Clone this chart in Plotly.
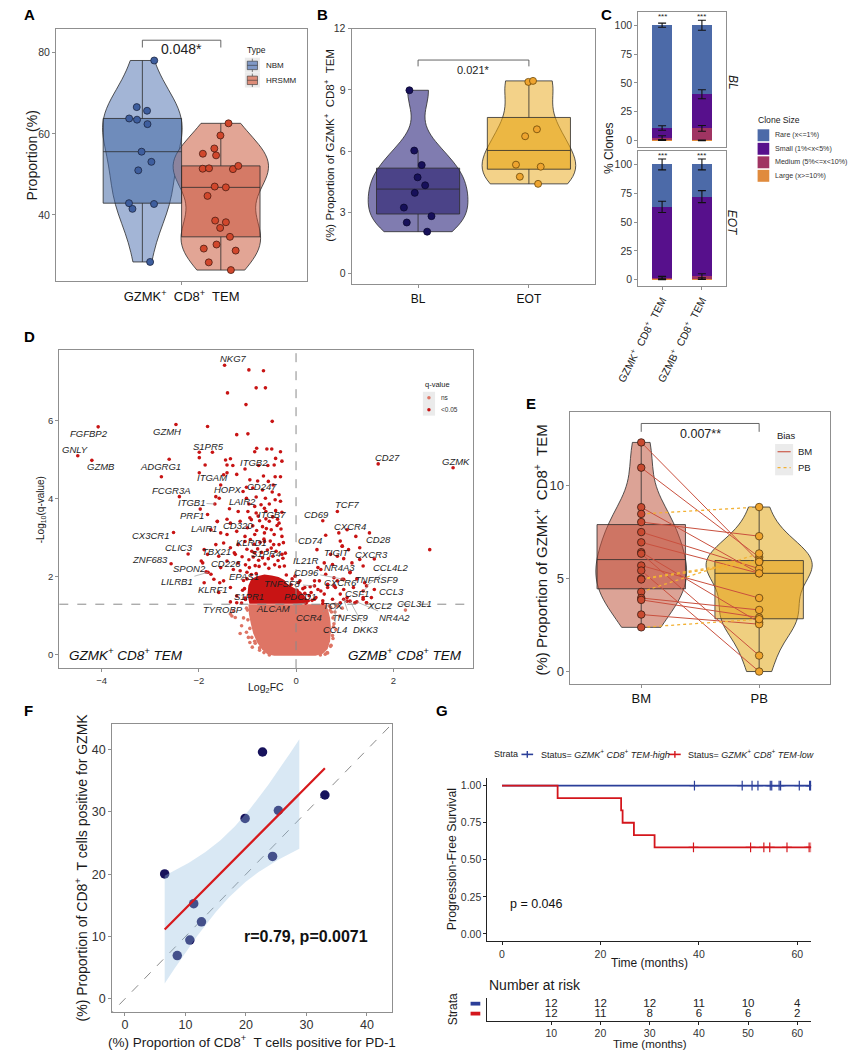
import numpy as np
import plotly.graph_objects as go

W, H = 851, 1050
FONT = "Liberation Sans, Arial, Helvetica, sans-serif"

# ======================= DATA =======================
# ---- Panel A
a_cell_label = "GZMK<sup>+</sup>  CD8<sup>+</sup>  TEM"
a_types = ["NBM", "HRSMM"]
a_nbm = [78.1, 66.6, 65.7, 63.8, 63.5, 62.4, 55.6, 53.1, 51.0, 42.9, 42.7, 41.5, 28.4]
a_hrsmm = [62.6, 59.6, 56.4, 55.1, 54.7, 52.1, 51.5, 51.4, 51.3, 47.0, 46.8, 44.7,
           38.6, 38.2, 36.8, 34.6, 32.7, 31.7, 31.2, 28.3, 26.4]
a_pval = "0.048*"

# ---- Panel B
b_groups = ["BL", "EOT"]
b_bl = [8.98, 6.03, 5.32, 4.72, 4.33, 3.96, 3.24, 2.82, 2.51, 2.06]
b_eot = [9.44, 9.39, 7.07, 6.73, 5.34, 5.24, 4.75, 4.40]
b_pval = "0.021*"

# ---- Panel C
c_cells = ["GZMK<sup>+</sup>  CD8<sup>+</sup>  TEM", "GZMB<sup>+</sup>  CD8<sup>+</sup>  TEM"]
c_timepoints = ["BL", "EOT"]
c_sizes = ["Rare (x&lt;=1%)", "Small (1%&lt;x&lt;5%)", "Medium (5%&lt;=x&lt;10%)", "Large (x&gt;=10%)"]
c_bl_rare = [89.1, 59.8]
c_bl_small = [8.6, 29.6]
c_bl_medium = [1.8, 10.4]
c_bl_large = [0.5, 0.2]
c_eot_rare = [36.8, 27.9]
c_eot_small = [61.5, 69.2]
c_eot_medium = [1.0, 1.9]
c_eot_large = [0.7, 1.0]
c_bl_err_rare = [1.8, 4.3]
c_bl_err_small = [2.0, 3.9]
c_bl_err_medium = [1.9, 2.5]
c_bl_err_large = [0.4, 0.3]
c_eot_err_rare = [4.7, 4.7]
c_eot_err_small = [4.9, 5.2]
c_eot_err_medium = [1.2, 2.3]
c_eot_err_large = [0.6, 0.8]
c_sig = ["***", "***"]

# ---- Panel D (volcano): labelled genes
d_genes = ["NKG7", "FGFBP2", "GNLY", "GZMB", "GZMH", "S1PR5", "ADGRG1", "ITGB2", "ITGAM", "FCGR3A",
           "HOPX", "CD247", "ITGB1", "LAIR2", "PRF1", "ITGB7", "CD320", "LAIR1", "CX3CR1", "KLRD1",
           "CLIC3", "TBX21", "S1PR4", "ZNF683", "CD226", "SPON2", "EPAS1", "LILRB1", "TNFSF8", "KLRF1",
           "S1PR1", "PDCD1", "TYROBP", "ALCAM", "CD69", "TCF7", "CXCR4", "CD74", "CD28", "TIGIT",
           "CXCR3", "IL21R", "NR4A3", "CCL4L2", "CD96", "TNFRSF9", "CXCR6", "CCL3", "CSF1", "CCL3L1",
           "XCL2", "TOX", "NR4A2", "CCR4", "TNFSF9", "CCL4", "DKK3", "CD27", "GZMK"]
d_gene_lfc = [-1.47, -4.07, -4.49, -4.20, -2.47, -1.99, -2.61, -1.05, -1.99, -2.40,
              -1.65, -1.02, -1.67, -0.85, -1.97, -0.65, -1.42, -1.62, -2.52, -0.65,
              -2.22, -1.27, -0.85, -2.57, -1.19, -1.92, -0.82, -1.81, 0.38, -1.89,
              -0.85, 0.41, -1.35, 0.20, 0.55, 0.85, 0.88, 0.61, 1.51, 0.95,
              1.61, 0.58, 1.11, 1.45, 0.98, 1.38, 0.78, 1.61, 1.38, 2.25,
              1.45, 1.05, 1.25, 0.58, 0.98, 0.81, 1.11, 1.69, 3.23]
d_gene_q = [7.43, 5.85, 5.11, 4.99, 5.91, 5.20, 5.02, 4.77, 4.67, 4.06,
            4.06, 4.30, 3.87, 3.81, 3.74, 3.76, 3.48, 3.42, 3.14, 2.91,
            2.59, 2.62, 2.62, 2.34, 2.36, 2.36, 2.09, 2.12, 1.77, 1.85,
            1.55, 1.47, 1.36, 1.33, 3.44, 3.68, 3.13, 3.07, 3.13, 2.79,
            2.46, 2.36, 2.12, 1.77, 1.94, 1.64, 1.77, 1.68, 1.47, 1.15,
            1.34, 1.38, 1.36, 1.13, 1.43, 1.30, 1.38, 4.90, 4.80]
# other (unlabelled) genes
d_other_lfc = [
    -0.97, -0.67, -0.82, -0.63, -1.41, -1.03, -0.49, -1.82, -1.22, -0.99,
    -1.72, -0.81, -0.60, -0.50, -0.32, -0.85, -1.35, -0.42, -0.29, -1.42,
    -1.30, -0.77, -0.58, -0.45, -1.49, -1.22, -0.67, -0.43, -0.32, -0.95,
    -0.79, -0.57, -0.47, -0.35, -1.09, -0.89, -0.69, -0.49, -1.02, -0.82,
    -0.63, -0.43, -0.32, -0.97, -0.72, -0.55, -1.58, -1.37, -1.19, -0.99,
    -0.82, -0.62, -0.42, -0.29, -1.62, -1.82, -1.35, -1.15, -0.92, -0.75,
    -0.55, -0.35, -1.55, -1.75, -1.42, -1.22, -1.05, -0.85, -0.65, -0.45,
    -0.29, -1.65, -1.49, -1.35, -1.19, -0.35, -0.29, -1.82, -1.95, -1.59,
    -1.42, -1.25, -1.55, -1.29, -1.75, -1.85, -1.49, -1.35, -1.59, -1.22,
    -1.12, -1.29, -1.25,
    -1.05, -0.94, -0.86, -0.74, -0.66, -0.53, -0.46, -0.26,
    -1.01, -0.91, -0.79, -0.71, -0.59, -0.51, -0.41, -0.22,
    -1.11, -0.97, -0.88, -0.77, -0.69, -0.57, -0.48, -0.37, -0.27,
    -1.04, -0.96, -0.84, -0.76, -0.64, -0.56, -0.44, -0.34, -0.24,
    -1.15, -1.01, -0.20, -1.08, -1.10, -1.05,
    -1.00, -0.89, -0.81, -0.69, -0.61, -0.51, -0.39, -0.31,
    -0.95, -0.78, -0.62, -0.48, -0.38,
    -2.77, -1.99, -1.87, -1.89, -1.57, -1.35, -1.15, -1.42, -1.55, -1.45,
    -1.69, -1.22, -1.02, -0.95,
    1.05, 1.23, 1.31, 2.75, 0.95, 1.08, 0.85, 0.98, 1.15, 1.38,
    0.75, 0.51, 0.61, 0.78, 0.95, 1.11, 0.48, 0.65, 0.81, 0.98,
    1.18, 1.41, 1.05, 1.21, 1.38, 1.55, 0.91, 0.75, 0.58, 0.45,
    0.38, 0.55, 1.45, 0.43, 0.91, 0.45, 0.85, 0.65, 0.55, 0.91,
    0.51, 0.38, 0.18, 0.11, 0.25, 0.08, 0.31, 1.31, 0.71, 1.25,
    0.71, 0.75, 0.78, 0.80, 0.72, 0.85, 0.70, -1.02, 0.65, 0.90,
    0.82, -1.32, 0.95, -0.90, -0.75, 0.60, -1.08, -1.12, -0.98, -0.85,
    -0.10, 0.02, 0.14, 0.27, 0.33, -0.08, 0.05, 0.18, 0.29, -0.02,
    -1.00, -0.99, -0.95, -0.91, -0.84, -0.75, -0.66, -0.55, 0.50, 0.64,
    0.71, 0.76, 0.77, 0.76, 0.73, 0.68, -1.04, -1.06, -1.01, -0.92]
d_other_q = [
    7.31, 7.29, 6.85, 6.85, 6.72, 6.42, 5.99, 5.86, 5.65, 5.67,
    5.20, 5.30, 5.28, 5.28, 5.21, 5.21, 5.03, 5.04, 4.97, 4.87,
    4.86, 4.86, 4.86, 4.87, 4.62, 4.63, 4.59, 4.57, 4.57, 4.49,
    4.46, 4.45, 4.36, 4.11, 4.19, 4.28, 4.23, 4.18, 4.02, 4.05,
    4.02, 3.98, 3.94, 3.87, 3.85, 3.87, 4.02, 3.75, 3.68, 3.68,
    3.64, 3.68, 3.70, 3.66, 3.43, 3.60, 3.38, 3.43, 3.47, 3.44,
    3.43, 3.38, 3.13, 3.21, 3.09, 3.17, 3.04, 3.09, 3.13, 3.09,
    3.04, 2.83, 2.87, 2.75, 2.83, 2.83, 2.58, 2.58, 2.41, 2.53,
    2.41, 2.58, 2.24, 2.19, 2.07, 2.13, 1.90, 1.73, 1.60, 1.51,
    1.33, 1.13, 0.96,
    2.91, 2.96, 2.84, 2.89, 2.97, 2.92, 2.83, 2.88,
    2.71, 2.66, 2.72, 2.63, 2.69, 2.74, 2.66, 2.61,
    2.52, 2.44, 2.51, 2.43, 2.49, 2.47, 2.53, 2.42, 2.48,
    2.31, 2.24, 2.29, 2.27, 2.33, 2.22, 2.31, 2.26, 2.28,
    2.16, 2.12, 2.05, 1.91, 1.66, 1.46,
    3.26, 3.31, 3.19, 3.29, 3.24, 3.21, 3.32, 3.23,
    3.52, 3.56, 3.49, 3.54, 3.48,
    4.57, 5.06, 4.87, 2.70, 1.85, 1.05, 0.55, 4.67, 4.36, 5.00,
    1.94, 1.34, 0.58, 0.32,
    3.21, 3.04, 2.75, 2.70, 2.79, 2.70, 2.53, 2.47, 2.36, 2.28,
    2.32, 2.19, 2.07, 1.98, 1.94, 2.11, 1.90, 1.81, 1.73, 1.68,
    1.73, 1.85, 1.47, 1.34, 1.43, 1.47, 1.34, 1.43, 1.56, 1.68,
    1.43, 1.32, 1.34, 2.70, 2.92, 2.24, 1.90, 1.73, 1.39, 1.56,
    1.64, 1.90, 1.73, 1.51, 1.39, 1.90, 1.60, 2.45, 2.58, 1.95,
    1.22, 0.50, 0.80, 1.10, 0.25, 1.25, 1.15, 1.20, 0.05, 1.00,
    0.65, 1.00, 1.20, 0.20, 0.12, 0.02, 0.95, 0.75, 0.45, 0.35,
    1.80, 1.66, 1.70, 1.52, 1.40, 1.95, 1.85, 1.58, 1.75, 2.02,
    1.15, 0.90, 0.68, 0.45, 0.30, 0.18, 0.06, 0.00, 0.00, 0.06,
    0.22, 0.42, 0.72, 0.95, 1.10, 1.26, 1.42, 1.70, 1.95, 2.06]
# outlines of the two regions where points are packed solid
d_core_lfc = [-0.96, -1.00, -0.98, -0.92, -0.80, -0.65, -0.50, -0.36, -0.24, -0.18, -0.05, 0.10, 0.22, 0.25]
d_core_q = [1.31, 1.55, 1.78, 1.95, 2.02, 2.06, 2.04, 2.00, 1.92, 1.82, 1.72, 1.62, 1.45, 1.31]
d_ns_lfc = [-0.98, -0.97, -0.93, -0.88, -0.80, -0.70, -0.59, -0.45, 0.40, 0.55, 0.65, 0.70, 0.72, 0.70, 0.66, 0.62]
d_ns_q = [1.30, 1.05, 0.80, 0.55, 0.32, 0.14, 0.02, -0.02, -0.02, 0.03, 0.15, 0.35, 0.65, 0.95, 1.15, 1.30]
d_qcut = 0.05
d_left_title = "GZMK<sup>+</sup> CD8<sup>+</sup> TEM"
d_right_title = "GZMB<sup>+</sup> CD8<sup>+</sup> TEM"

# ---- Panel E (paired BM / PB)
e_sites = ["BM", "PB"]
e_bm = [12.34, 10.98, 8.85, 8.49, 8.05, 7.51, 6.96, 6.43, 6.35, 5.71, 5.44, 5.00, 4.96, 4.29, 3.96, 3.86, 3.07, 2.38]
e_pb = [5.91, 6.16, 5.29, 8.86, 7.29, 5.54, 5.29, 2.65, 0.86, 3.96, 0.00, 6.00, 5.91, 6.36, 3.32, 2.91, 2.55, 2.82]
e_pval = "0.007**"

# ---- Panel F
f_pd1 = [6.57, 8.65, 10.73, 11.37, 12.65, 19.86, 22.74, 24.40, 25.36, 33.05]
f_gzmk = [20.05, 6.95, 9.44, 15.28, 12.36, 28.97, 39.63, 22.86, 30.24, 32.73]
f_limits = [0, 42]
f_stat = "r=0.79, p=0.0071"

# ---- Panel G (Kaplan-Meier)
g_strata = ["Status= <i>GZMK<sup>+</sup> CD8<sup>+</sup> TEM-high</i>",
            "Status= <i>GZMK<sup>+</sup> CD8<sup>+</sup> TEM-low</i>"]
g_high_time = [39.1, 48.8, 50.8, 52.0, 54.5, 54.8, 56.3, 56.6, 60.4, 62.5, 62.7, 62.9]
g_high_event = [0, 0, 0, 0, 0, 0, 0, 0, 0, 0, 0, 0]
g_low_time = [11.3, 24.2, 24.5, 26.8, 31.0, 38.9, 50.5, 53.2, 54.4, 57.9, 62.4, 62.8]
g_low_event = [1, 1, 1, 1, 1, 0, 0, 0, 0, 0, 0, 0]
g_risk_times = [10, 20, 30, 40, 50, 60]
g_pval = "p = 0.046"

# ======================= HELPERS =======================
def PX(x): return x / W
def PY(y): return 1 - y / H
def dom_x(x0, x1): return [x0 / W, x1 / W]
def dom_y(y0, y1): return [1 - y1 / H, 1 - y0 / H]

fig = go.Figure()
ann, shapes = [], []


def note(text, x, y, size, xa="center", ya="middle", angle=0, color="#1a1a1a", xref="paper", yref="paper"):
    if xref == "paper":
        x = PX(x)
    if yref == "paper":
        y = PY(y)
    ann.append(dict(text=text, x=x, y=y, xref=xref, yref=yref, showarrow=False, xanchor=xa, yanchor=ya,
                    textangle=angle, font=dict(family=FONT, size=size, color=color)))


def rect(x0, y0, x1, y1, fill, line=None, lw=0):
    shapes.append(dict(type="rect", xref="paper", yref="paper", x0=PX(x0), x1=PX(x1), y0=PY(y1), y1=PY(y0),
                       fillcolor=fill, line=dict(color=line or fill, width=lw)))


def seg(x0, y0, x1, y1, color, width=1.0, dash="solid"):
    shapes.append(dict(type="line", xref="paper", yref="paper", x0=PX(x0), y0=PY(y0), x1=PX(x1), y1=PY(y1),
                       line=dict(color=color, width=width, dash=dash)))


def dot(x, y, r, color):
    shapes.append(dict(type="circle", xref="paper", yref="paper", x0=PX(x - r), x1=PX(x + r), y0=PY(y + r),
                       y1=PY(y - r), fillcolor=color, line=dict(width=0)))


def nrd0(v):
    v = np.asarray(v, float)
    q75, q25 = np.percentile(v, [75, 25])
    return 0.9 * min(v.std(ddof=1), (q75 - q25) / 1.34) * len(v) ** (-0.2)


def box_stats(v):
    v = np.asarray(v, float)
    q1, med, q3 = np.percentile(v, [25, 50, 75])
    iqr = q3 - q1
    return q1, med, q3, v[v >= q1 - 1.5 * iqr].min(), v[v <= q3 + 1.5 * iqr].max()


def violin_box(vals, pos, xa, ya, vw, bw, vfill, bfill, lc="#2b2b2b"):
    fig.add_trace(go.Violin(x=[pos] * len(vals), y=vals, xaxis=xa, yaxis=ya, orientation="v", width=vw,
                            bandwidth=nrd0(vals), spanmode="hard", points=False, fillcolor=vfill,
                            line=dict(color=lc, width=0.8), box=dict(visible=False),
                            meanline=dict(visible=False), hoverinfo="skip", showlegend=False))
    q1, med, q3, lo, hi = box_stats(vals)
    fig.add_trace(go.Box(x=[pos], q1=[q1], median=[med], q3=[q3], lowerfence=[lo], upperfence=[hi],
                         xaxis=xa, yaxis=ya, orientation="v", width=bw, fillcolor=bfill,
                         line=dict(color=lc, width=0.8), whiskerwidth=0, boxpoints=False,
                         hoverinfo="skip", showlegend=False))


def jitter_points(vals, pos, xa, ya, spread, color, edge, size=7):
    fig.add_trace(go.Box(x=[pos] * len(vals), y=vals, xaxis=xa, yaxis=ya, orientation="v", width=spread,
                         boxpoints="all", jitter=1, pointpos=0, fillcolor="rgba(0,0,0,0)",
                         line=dict(color="rgba(0,0,0,0)", width=0), whiskerwidth=0,
                         marker=dict(color=color, size=size, line=dict(color=edge, width=0.8)),
                         hoverinfo="skip", showlegend=False))


def bracket(x0, x1, ylo, yhi, xa, ya):
    fig.add_trace(go.Scatter(x=[x0, x0, x1, x1], y=[ylo, yhi, yhi, ylo], mode="lines", xaxis=xa, yaxis=ya,
                             line=dict(color="#555555", width=0.9), hoverinfo="skip", showlegend=False))


# ======================= PANEL A =======================
a_pos = [0.8125, 1.1875]
violin_box(a_nbm, a_pos[0], "x", "y", 0.38, 0.375, "#a3b5d6", "rgba(70,105,165,0.55)")
violin_box(a_hrsmm, a_pos[1], "x", "y", 0.456, 0.375, "#e2a595", "rgba(200,80,55,0.5)")
jitter_points(a_nbm, a_pos[0], "x", "y", 0.2, "#3e5e9e", "#1c2640")
jitter_points(a_hrsmm, a_pos[1], "x", "y", 0.2, "#d1472c", "#4a1c12")
bracket(a_pos[0], a_pos[1], 81.3, 83.1, "x", "y")
note(a_pval, 1.0, 80.9, 14, xref="x", yref="y", color="#222")

# ======================= PANEL B =======================
violin_box(b_bl, 1, "x2", "y2", 0.9, 0.75, "#807cb0", "rgba(40,30,110,0.6)")
violin_box(b_eot, 2, "x2", "y2", 0.84, 0.75, "#f3d289", "rgba(232,165,20,0.6)")
jitter_points(b_bl, 1, "x2", "y2", 0.32, "#17105a", "#0a0830")
jitter_points(b_eot, 2, "x2", "y2", 0.32, "#eea42f", "#6b4708")
bracket(1, 2, 10.15, 10.46, "x2", "y2")
note(b_pval, 1.5, 9.98, 11, xref="x2", yref="y2", color="#222")

# ======================= PANEL C =======================
c_pos = [1, 2]
col_rare, col_small, col_medium, col_large = "#4c6aa8", "#57108c", "#a03462", "#e08b3d"
c_facets = [
    ("x3", "y3", [c_bl_large, c_bl_medium, c_bl_small, c_bl_rare],
     [c_bl_err_large, c_bl_err_medium, c_bl_err_small, c_bl_err_rare]),
    ("x4", "y4", [c_eot_large, c_eot_medium, c_eot_small, c_eot_rare],
     [c_eot_err_large, c_eot_err_medium, c_eot_err_small, c_eot_err_rare]),
]
for xa, ya, layers, errs in c_facets:
    for vals, col in zip(layers, [col_large, col_medium, col_small, col_rare]):
        fig.add_trace(go.Bar(x=c_pos, y=vals, width=0.5, xaxis=xa, yaxis=ya, marker=dict(color=col, line=dict(width=0)),
                             hoverinfo="skip", showlegend=False))
    tops = np.cumsum(np.array(layers, float), axis=0)
    for top, err in zip(tops, errs):
        fig.add_trace(go.Scatter(x=c_pos, y=top, mode="markers", xaxis=xa, yaxis=ya,
                                 marker=dict(size=1, color="rgba(0,0,0,0)"),
                                 error_y=dict(type="data", array=err, color="#111111", thickness=1.1, width=4),
                                 hoverinfo="skip", showlegend=False))
    for p, s in zip(c_pos, c_sig):
        note(s, p, 107.4, 8, xref=xa, yref=ya, color="#222")

# ======================= PANEL D =======================
thr = -np.log10(d_qcut)
fig.add_trace(go.Scatter(x=d_ns_lfc, y=d_ns_q, fill="toself", mode="lines", line=dict(width=0),
                         fillcolor="#de7565", xaxis="x5", yaxis="y5", hoverinfo="skip", showlegend=False))
fig.add_trace(go.Scatter(x=d_core_lfc, y=d_core_q, fill="toself", mode="lines", line=dict(width=0),
                         fillcolor="#c81414", xaxis="x5", yaxis="y5", hoverinfo="skip", showlegend=False))
vx = np.array(d_gene_lfc + d_other_lfc)
vy = np.array(d_gene_q + d_other_q)
sig = vy > thr
fig.add_trace(go.Scatter(x=vx[~sig], y=vy[~sig], mode="markers", marker=dict(size=3.6, color="#de7565"),
                         xaxis="x5", yaxis="y5", hoverinfo="skip", showlegend=False))
fig.add_trace(go.Scatter(x=vx[sig], y=vy[sig], mode="markers", marker=dict(size=3.6, color="#c81414"),
                         xaxis="x5", yaxis="y5", hoverinfo="skip", showlegend=False))

d_label_xy = {
    "NKG7": (-1.29, 7.60), "FGFBP2": (-4.25, 5.69), "GNLY": (-4.55, 5.28), "GZMB": (-4.02, 4.82),
    "GZMH": (-2.65, 5.73), "S1PR5": (-1.81, 5.35), "ADGRG1": (-2.79, 4.84), "ITGB2": (-0.87, 4.93),
    "ITGAM": (-1.72, 4.55), "FCGR3A": (-2.57, 4.23), "HOPX": (-1.41, 4.25), "CD247": (-0.71, 4.33),
    "ITGB1": (-2.15, 3.91), "LAIR2": (-1.10, 3.93), "PRF1": (-2.15, 3.57), "ITGB7": (-0.49, 3.61),
    "CD320": (-1.19, 3.31), "LAIR1": (-1.89, 3.25), "CX3CR1": (-2.99, 3.06), "KLRD1": (-0.91, 2.89),
    "CLIC3": (-2.40, 2.76), "TBX21": (-1.64, 2.65), "S1PR4": (-0.62, 2.59), "ZNF683": (-3.00, 2.45),
    "CD226": (-1.44, 2.34), "SPON2": (-2.19, 2.21), "EPAS1": (-1.07, 2.02), "LILRB1": (-2.45, 1.89),
    "TNFSF8": (-0.27, 1.83), "KLRF1": (-1.71, 1.68), "S1PR1": (-0.97, 1.51), "PDCD1": (0.08, 1.51),
    "TYROBP": (-1.51, 1.17), "ALCAM": (-0.47, 1.20), "CD69": (0.43, 3.59), "TCF7": (1.05, 3.85),
    "CXCR4": (1.10, 3.30), "CD74": (0.29, 2.93), "CD28": (1.69, 2.96), "TIGIT": (0.83, 2.63),
    "CXCR3": (1.55, 2.57), "IL21R": (0.20, 2.43), "NR4A3": (0.90, 2.25), "CCL4L2": (1.95, 2.25),
    "CD96": (0.21, 2.12), "TNFRSF9": (1.65, 1.94), "CXCR6": (0.91, 1.85), "CCL3": (1.97, 1.63),
    "CSF1": (1.25, 1.57), "CCL3L1": (2.43, 1.33), "XCL2": (1.71, 1.26), "TOX": (0.75, 1.26),
    "NR4A2": (2.03, 0.95), "CCR4": (0.26, 0.95), "TNFSF9": (1.11, 0.95), "CCL4": (0.80, 0.65),
    "DKK3": (1.43, 0.65), "CD27": (1.88, 5.07), "GZMK": (3.28, 4.97),
}
d_segments = {"ITGB1", "LILRB1", "TNFSF8", "ALCAM", "CCL4L2", "TNFRSF9", "NR4A2", "TNFSF9", "DKK3",
              "CD96", "CCL3L1", "XCL2", "PDCD1", "CCR4", "CCL4", "TOX", "CSF1"}
for g, gx, gy in zip(d_genes, d_gene_lfc, d_gene_q):
    lx, ly = d_label_xy[g]
    if g in d_segments:
        ann.append(dict(text="<i>%s</i>" % g, x=gx, y=gy, xref="x5", yref="y5", ax=lx, ay=ly, axref="x5",
                        ayref="y5", showarrow=True, arrowhead=0, arrowwidth=0.7, arrowcolor="#9a9a9a",
                        standoff=0, font=dict(family=FONT, size=9.5, color="#1e1e1e")))
    else:
        note("<i>%s</i>" % g, lx, ly, 9.5, xref="x5", yref="y5", color="#1e1e1e")
note("<i>%s</i>" % d_left_title, -4.72, 0.02, 13.5, xa="left", xref="x5", yref="y5", color="#111")
note("<i>%s</i>" % d_right_title, 3.46, 0.02, 13.5, xa="right", xref="x5", yref="y5", color="#111")
shapes.append(dict(type="line", xref="x5 domain", yref="y5", x0=0, x1=1, y0=thr, y1=thr,
                   line=dict(color="#8a8a8a", width=1, dash="dash")))
shapes.append(dict(type="line", xref="x5", yref="y5 domain", x0=0, x1=0, y0=0, y1=1,
                   line=dict(color="#8a8a8a", width=1, dash="dash")))

# ======================= PANEL E =======================
violin_box(e_bm, 1, "x6", "y6", 0.77, 0.75, "#dca396", "rgba(195,80,60,0.55)")
violin_box(e_pb, 2, "x6", "y6", 0.9, 0.75, "#efcf80", "rgba(228,160,20,0.55)")
bm_arr, pb_arr = np.array(e_bm), np.array(e_pb)
for mask, color, dash, wdt in [(bm_arr > pb_arr, "#c9503e", "solid", 1.0), (bm_arr <= pb_arr, "#f2b134", "dot", 1.3)]:
    xs, ys = [], []
    for b, p in zip(bm_arr[mask], pb_arr[mask]):
        xs += [1, 2, None]
        ys += [b, p, None]
    fig.add_trace(go.Scatter(x=xs, y=ys, mode="lines", xaxis="x6", yaxis="y6", line=dict(color=color, width=wdt, dash=dash),
                             hoverinfo="skip", showlegend=False))
fig.add_trace(go.Scatter(x=[1] * len(e_bm), y=e_bm, mode="markers", xaxis="x6", yaxis="y6",
                         marker=dict(size=7.5, color="#c94a30", line=dict(color="#3a1a10", width=0.8)),
                         hoverinfo="skip", showlegend=False))
fig.add_trace(go.Scatter(x=[2] * len(e_pb), y=e_pb, mode="markers", xaxis="x6", yaxis="y6",
                         marker=dict(size=7.5, color="#f0a52e", line=dict(color="#5a3d10", width=0.8)),
                         hoverinfo="skip", showlegend=False))
bracket(1, 2, 12.91, 13.36, "x6", "y6")
note(e_pval, 1.5, 12.79, 12.5, xref="x6", yref="y6", color="#222")

# ======================= PANEL F =======================
fx, fy = np.array(f_pd1), np.array(f_gzmk)
fig.add_trace(go.Scatter(x=[-3, 45], y=[-3, 45], mode="lines", xaxis="x7", yaxis="y7",
                         line=dict(color="#8a8a8a", width=1, dash="dash"), hoverinfo="skip", showlegend=False))
fig.add_trace(go.Scatter(x=fx, y=fy, mode="markers", xaxis="x7", yaxis="y7",
                         marker=dict(size=9.5, color="#17125c"), hoverinfo="skip", showlegend=False))
slope, icpt = np.polyfit(fx, fy, 1)
n = len(fx)
resid = fy - (slope * fx + icpt)
s_err = np.sqrt((resid ** 2).sum() / (n - 2))
sxx = ((fx - fx.mean()) ** 2).sum()
t_crit = 2.306  # t(0.975, df=8)
gx = np.linspace(fx.min(), fx.max(), 120)
gfit = slope * gx + icpt
half = t_crit * s_err * np.sqrt(1 / n + (gx - fx.mean()) ** 2 / sxx)
lo_b, hi_b = gfit - half, gfit + half
keep = (hi_b <= f_limits[1]) & (lo_b >= f_limits[0])
bx = gx[keep]
fig.add_trace(go.Scatter(x=np.concatenate([bx, bx[::-1]]), y=np.concatenate([hi_b[keep], lo_b[keep][::-1]]),
                         fill="toself", mode="lines", line=dict(width=0), fillcolor="rgba(150,190,225,0.36)",
                         xaxis="x7", yaxis="y7", hoverinfo="skip", showlegend=False))
fig.add_trace(go.Scatter(x=gx, y=gfit, mode="lines", xaxis="x7", yaxis="y7", line=dict(color="#d7191c", width=2.2),
                         hoverinfo="skip", showlegend=False))
note("<b>%s</b>" % f_stat, 29.9, 9.97, 16, xref="x7", yref="y7", color="#111")

# ======================= PANEL G =======================
col_high, col_low = "#2b3f99", "#d4161c"


def km_curve(times, events):
    t = np.asarray(times, float)
    e = np.asarray(events, int)
    xs, ys, s = [0.0], [1.0], 1.0
    for ut in np.unique(t[e == 1]):
        s *= 1 - ((t == ut) & (e == 1)).sum() / (t >= ut).sum()
        xs.append(ut)
        ys.append(s)
    xs.append(t.max())
    ys.append(s)
    xs, ys = np.array(xs), np.array(ys)
    cx = t[e == 0]
    cy = np.array([ys[np.searchsorted(xs, c, side="right") - 1] for c in cx])
    return xs, ys, cx, cy


for times, events, col in [(g_high_time, g_high_event, col_high), (g_low_time, g_low_event, col_low)]:
    xs, ys, cx, cy = km_curve(times, events)
    fig.add_trace(go.Scatter(x=xs, y=ys, mode="lines", line=dict(color=col, width=1.8, shape="hv"),
                             xaxis="x8", yaxis="y8", hoverinfo="skip", showlegend=False))
    fig.add_trace(go.Scatter(x=cx, y=cy, mode="markers", xaxis="x8", yaxis="y8",
                             marker=dict(symbol="cross-thin-open", size=7, color=col, line=dict(color=col, width=1.2)),
                             hoverinfo="skip", showlegend=False))
note(g_pval, 1.3, 0.2, 12.5, xa="left", xref="x8", yref="y8", color="#111")

for row, times in [(2, g_high_time), (1, g_low_time)]:
    t = np.asarray(times)
    counts = [int((t >= rt).sum()) for rt in g_risk_times]
    fig.add_trace(go.Scatter(x=g_risk_times, y=[row] * len(g_risk_times), mode="text",
                             text=[str(c) for c in counts], textfont=dict(family=FONT, size=11.5, color="#222"),
                             xaxis="x9", yaxis="y9", hoverinfo="skip", showlegend=False))

# ======================= AXES =======================
def fax(domain, rng, anchor, fs=10.5, fc="#333333", **kw):
    d = dict(domain=domain, range=rng, anchor=anchor, showgrid=False, zeroline=False, showline=True, mirror=True,
             linecolor="#8f8f8f", linewidth=1, ticks="outside", ticklen=3, tickwidth=1, tickcolor="#8f8f8f",
             tickfont=dict(family=FONT, size=fs, color=fc), fixedrange=True)
    d.update(kw)
    return d


lay = dict(width=W, height=H, margin=dict(l=0, r=0, t=0, b=0), paper_bgcolor="white", plot_bgcolor="white",
           font=dict(family=FONT, color="#1a1a1a"), showlegend=False, barmode="stack",
           boxmode="overlay", violinmode="overlay")
lay["xaxis"] = fax(dom_x(34, 292), [0.4, 1.6], "y", fs=13, fc="#111", tickvals=[1], ticktext=[a_cell_label])
lay["yaxis"] = fax(dom_y(23, 277), [23.6, 85.9], "x", tickvals=[40, 60, 80])
lay["xaxis2"] = fax(dom_x(337.7, 588.3), [0.4, 2.6], "y2", fs=12, fc="#111", tickvals=[1, 2], ticktext=b_groups)
lay["yaxis2"] = fax(dom_y(22.7, 280), [-0.52, 12.0], "x2", tickvals=[0, 3, 6, 9, 12])
lay["xaxis3"] = fax(dom_x(632.3, 722.3), [0.4, 2.6], "y3", tickvals=c_pos, showticklabels=False, ticks="")
lay["yaxis3"] = fax(dom_y(6, 141.7), [-5.5, 111.5], "x3", tickvals=[0, 25, 50, 75, 100])
lay["xaxis4"] = fax(dom_x(632.3, 722.3), [0.4, 2.6], "y4", fs=10.5, fc="#222", tickvals=c_pos,
                    ticktext=c_cells, tickangle=-63)
lay["yaxis4"] = fax(dom_y(146, 281.7), [-5.5, 111.5], "x4", tickvals=[0, 25, 50, 75, 100])
lay["xaxis5"] = fax(dom_x(37.3, 462), [-4.87, 3.63], "y5", fs=9.5, tickvals=[-4, -2, 0, 2])
lay["yaxis5"] = fax(dom_y(346, 666), [-0.34, 7.82], "x5", fs=9.5, tickvals=[0, 2, 4, 6])
lay["xaxis6"] = fax(dom_x(562.7, 829.3), [0.4, 2.6], "y6", fs=13, fc="#111", tickvals=[1, 2], ticktext=e_sites)
lay["yaxis6"] = fax(dom_y(408.3, 681.7), [-0.66, 13.98], "x6", fs=13, tickvals=[0, 5, 10])
lay["xaxis7"] = fax(dom_x(91.7, 379), [-2.1, 44.1], "y7", fs=12.5, tickvals=[0, 10, 20, 30, 40],
                    ticklabelstandoff=-2)
lay["yaxis7"] = fax(dom_y(722.3, 1011.7), [-2.1, 44.1], "x7", fs=12.5, tickvals=[0, 10, 20, 30, 40])
gk = dict(mirror=False, linecolor="#222222", tickcolor="#222222")
lay["xaxis8"] = fax(dom_x(477.3, 810), [-2.97, 62.8], "y8", tickvals=[0, 20, 40, 60], **gk)
lay["yaxis8"] = fax(dom_y(776.7, 940.7), [-0.05, 1.05], "x8", tickvals=[0, 0.25, 0.5, 0.75, 1], tickformat=".2f", **gk)
lay["xaxis9"] = fax(dom_x(477.3, 810), [-2.97, 62.8], "y9", tickvals=g_risk_times, ticklabelstandoff=-1, **gk)
lay["yaxis9"] = fax(dom_y(998, 1021), [0.33, 2.63], "x9", ticks="", showticklabels=False, **gk)

# ======================= TITLES / LEGENDS =======================
for letter, x, y in [("A", 6.7, 8.7), ("B", 308, 8.3), ("C", 600, 8.3), ("D", 7, 332.5),
                     ("E", 521.7, 400), ("F", 5.5, 709), ("G", 430.5, 709)]:
    note("<b>%s</b>" % letter, x, y, 15, color="#000")

note("Proportion (%)", 9.5, 150, 14, angle=-90)
note("(%) Proportion of GZMK<sup>+</sup>  CD8<sup>+</sup>  TEM", 315, 140, 11.5, angle=-90)
note("% Clones", 601.5, 143.5, 12, angle=-90)
note("<i>%s</i>" % c_timepoints[0], 729, 76.7, 12, angle=90)
note("<i>%s</i>" % c_timepoints[1], 729, 218.3, 12, angle=90)
note("-Log<sub>10</sub>(q-value)", 18, 506.7, 10, angle=-90)
note("Log<sub>2</sub>FC", 249.7, 686, 10.5)
note("(%) Proportion of GZMK<sup>+</sup>  CD8<sup>+</sup>  TEM", 531.7, 547.3, 15, angle=-90)
note("(%) Proportion of CD8<sup>+</sup>  T cells positive for GZMK", 60, 866, 14, angle=-90)
note("(%) Proportion of CD8<sup>+</sup>  T cells positive for PD-1", 235, 1040.5, 13.5)
note("Progression-Free Survival", 441.7, 858.3, 12.3, angle=-90)
note("Time (months)", 644, 962.7, 12)
note("Number at risk", 477, 985, 14, xa="left")
note("Strata", 441.7, 1009.3, 12, angle=-90)
note("Time (months)", 644, 1043.5, 11.5)

# legend A
note("Type", 228, 44, 8.5, xa="left")
for i, (lab, fill) in enumerate(zip(a_types, ["#7f98c6", "#dd8c78"])):
    y0 = 52 + 15 * i
    rect(228, y0, 243.5, y0 + 15, "#ebebeb")
    rect(230.5, y0 + 3.5, 241, y0 + 12, fill, line="#333333", lw=0.6)
    seg(230.5, y0 + 7.7, 241, y0 + 7.7, "#333333", 0.6)
    seg(235.7, y0 + 1, 235.7, y0 + 3.5, "#333333", 0.6)
    seg(235.7, y0 + 12, 235.7, y0 + 14.5, "#333333", 0.6)
    note(lab, 247.5, y0 + 7.8, 8, xa="left", color="#222")

# legend C
note("Clone Size", 753, 115, 8.6, xa="left")
for i, (lab, col) in enumerate(zip(c_sizes, [col_rare, col_small, col_medium, col_large])):
    yc = 130 + 13.6 * i
    rect(755, yc - 6, 767, yc + 6, col)
    note(lab, 770.5, yc, 7.1, xa="left", color="#333")

# legend D
note("q-value", 411, 381, 7.5, xa="left")
rect(411, 388, 423.5, 412, "#ebebeb")
dot(417.2, 394, 1.8, "#de7565")
dot(417.2, 406, 1.8, "#c81414")
note("ns", 427.5, 394, 6.5, xa="left", color="#333")
note("&lt;0.05", 427.5, 406, 6.5, xa="left", color="#333")

# legend E
note("Bias", 773, 432.3, 9.4, xa="left")
rect(773, 440.5, 791.5, 472, "#ebebeb")
seg(775.5, 448.3, 789, 448.3, "#c9503e", 1.1)
seg(775.5, 464.3, 789, 464.3, "#f2b134", 1.3, "dot")
note(e_sites[0], 794.5, 448.3, 9.5, xa="left", color="#222")
note(e_sites[1], 794.5, 464.3, 9.5, xa="left", color="#222")

# legend G
note("Strata", 482, 752.7, 9, xa="left", color="#222")
seg(512.3, 752.7, 524.3, 752.7, col_high, 1.6)
seg(518.3, 749.3, 518.3, 756.1, col_high, 1.4)
note(g_strata[0], 530.3, 752.7, 9, xa="left", color="#222")
seg(664, 752.7, 676, 752.7, col_low, 1.6)
seg(670, 749.3, 670, 756.1, col_low, 1.4)
note(g_strata[1], 681.7, 752.7, 9, xa="left", color="#222")
rect(460, 1001.5, 470, 1005.3, col_high)
rect(460, 1011.5, 470, 1015.3, col_low)

lay["annotations"] = ann
lay["shapes"] = shapes
fig.update_layout(**lay)
fig.write_html("out.html", include_plotlyjs=True, config={"displayModeBar": False},
               post_script="document.body.style.margin='0px';document.body.style.overflow='hidden';")
